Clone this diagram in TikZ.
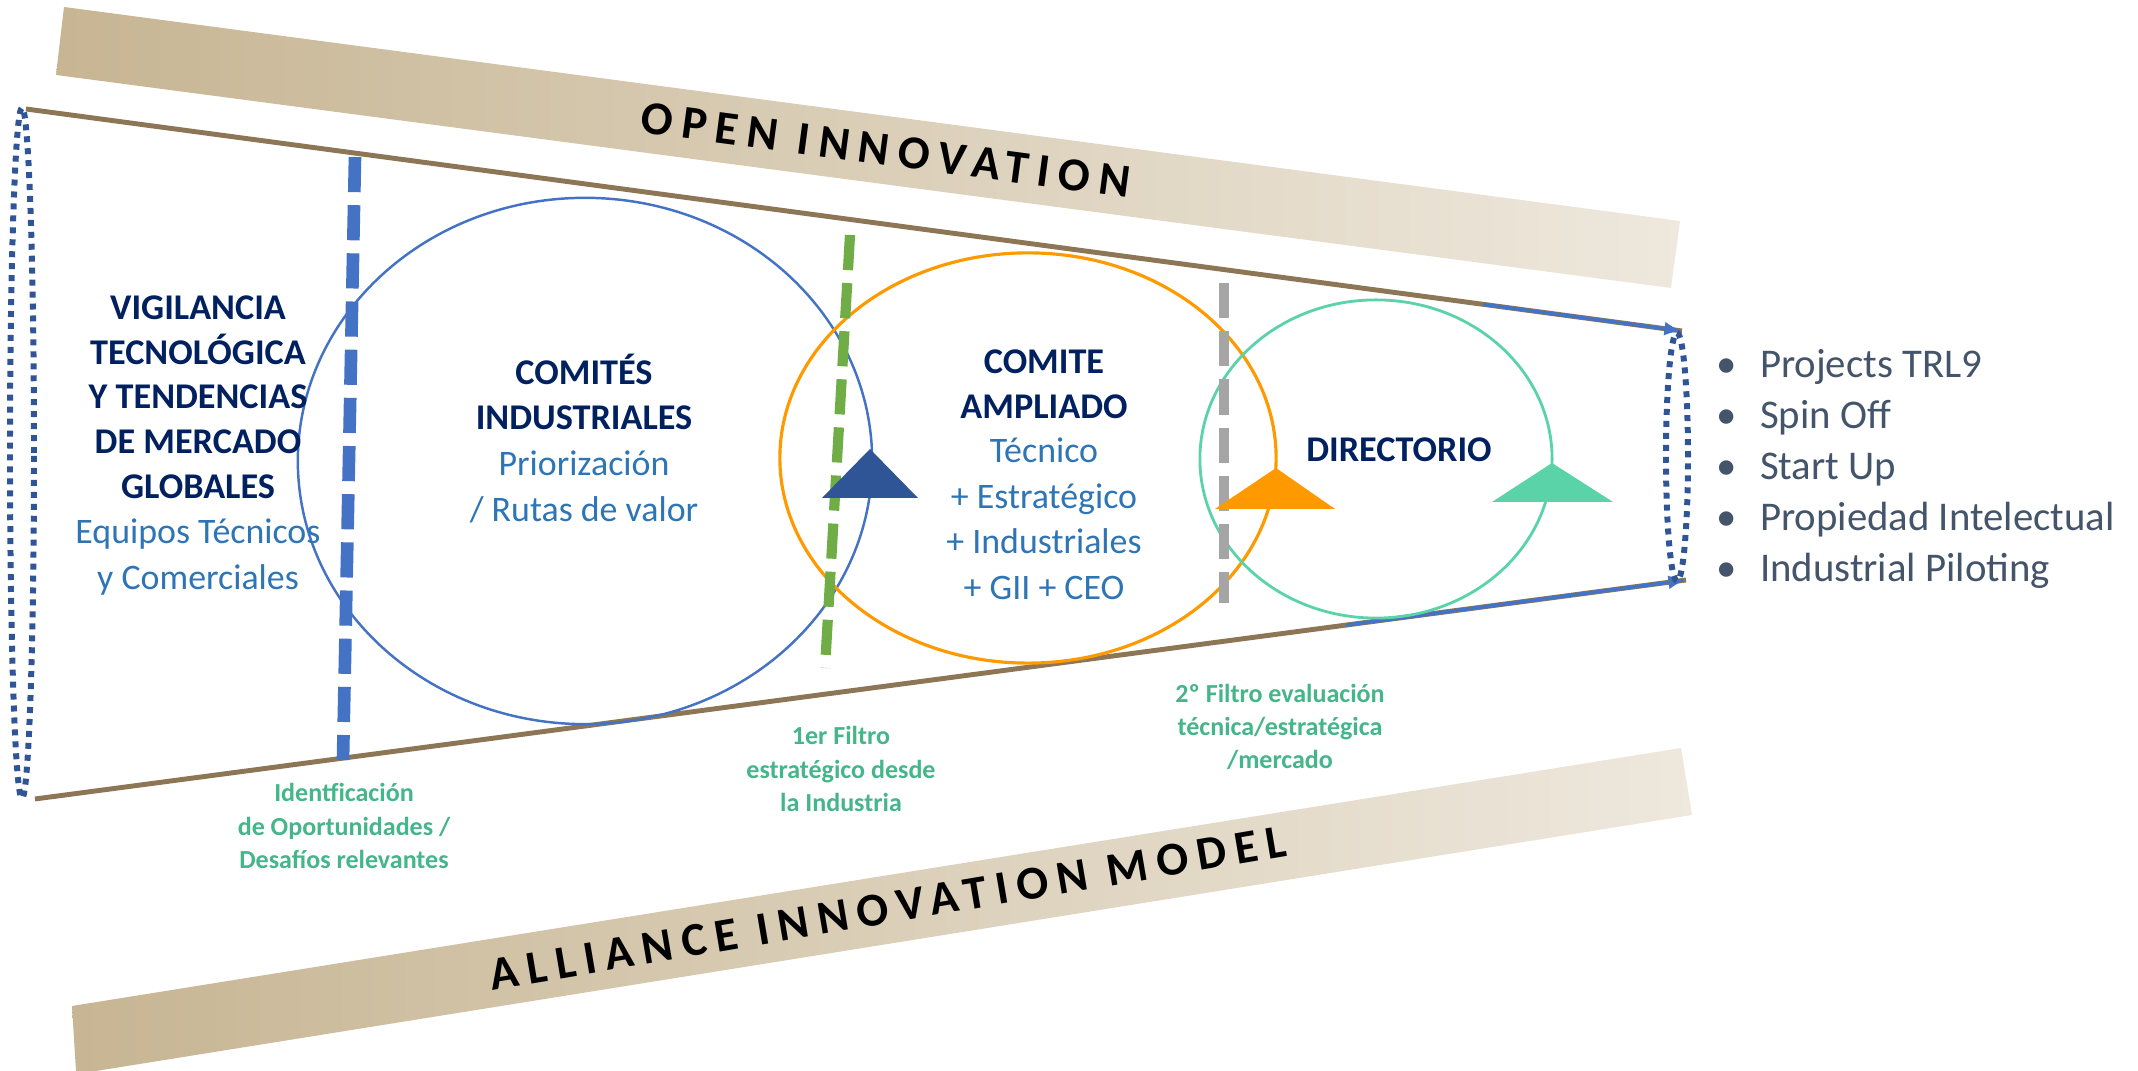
\documentclass[tikz,border=0pt]{standalone}
\usepackage{fontspec}
\setmainfont{Carlito}
\usepackage{tikz}
\usetikzlibrary{arrows.meta,calc,positioning}

\definecolor{navy}{HTML}{002060}
\definecolor{txtblue}{HTML}{2E75B6}
\definecolor{lblgreen}{HTML}{45B58A}
\definecolor{listgray}{HTML}{44546A}
\definecolor{bandL}{HTML}{C7B593}
\definecolor{bandR}{HTML}{EEE8DD}
\definecolor{funnel}{HTML}{8C7656}
\definecolor{dkblue}{HTML}{2F5597}
\definecolor{midblue}{HTML}{4472C4}
\definecolor{grn}{HTML}{70AD47}
\definecolor{org}{HTML}{FF9900}
\definecolor{mint}{HTML}{5BD3A9}
\definecolor{gatgray}{HTML}{A5A5A5}

\begin{document}
\begin{tikzpicture}[x=0.01cm, y=-0.01cm, >=Latex,
  title/.style={font=\fontsize{10.3}{12.7}\selectfont\bfseries, text=navy, align=center, inner sep=0pt},
  sub/.style={font=\fontsize{10.2}{13}\selectfont, text=txtblue, align=center, inner sep=0pt},
  filt/.style={font=\fontsize{7.4}{9.5}\selectfont\bfseries, text=lblgreen, align=center, inner sep=0pt},
  band/.style={left color=bandL, right color=bandR},
  bandtext/.style={font=\fontsize{13.4}{14}\selectfont\bfseries\addfontfeature{LetterSpace=19}, inner sep=0pt},
  gate/.style={dash pattern=on 10pt off 3.7pt}]

  \useasboundingbox (0,0) rectangle (2138,1071);

  % Bands
  \shade[band] (64,7) -- (1680,221) -- (1671,288) -- (56,75) -- cycle;
  \shade[band] (72,1006) -- (1681,748) -- (1692,815) -- (96,1071) -- (76,1071) -- cycle;
  \node[bandtext, rotate=-7.6] (open) at (886,150) {OPEN INNOVATION};
  \node[bandtext, rotate=9.6] (alliance) at (888,908) {ALLIANCE INNOVATION MODEL};

  % Funnel edges
  \coordinate (tl) at (26,109);
  \coordinate (tr) at (1682,331);
  \coordinate (bl) at (35,799);
  \coordinate (br) at (1686,580);
  \draw[funnel, line width=1.4pt] (tl) -- (tr);
  \draw[funnel, line width=1.4pt] (bl) -- (br);
  \coordinate (ta) at ($(tl)!0.88!(tr)$);
  \coordinate (ba) at ($(bl)!0.794!(br)$);
  \draw[midblue, line width=1pt, -{Latex[length=5pt,width=4pt]}] (ta) -- (tr);
  \draw[midblue, line width=1pt, -{Latex[length=5pt,width=4pt]}] (ba) -- (br);

  % Dotted mouths
  \draw[dkblue, line width=1.7pt, dash pattern=on 1.7pt off 1.7pt] (22,453) ellipse [x radius=0.12cm, y radius=3.45cm];
  \draw[dkblue, line width=1.7pt, dash pattern=on 1.7pt off 1.7pt] (1677,457) ellipse [x radius=0.11cm, y radius=1.24cm];

  % Committees
  \draw[midblue, line width=0.7pt] (585,461) ellipse [x radius=2.87cm, y radius=2.63cm];
  \draw[org, line width=0.9pt] (1028,458) ellipse [x radius=2.48cm, y radius=2.05cm];
  \draw[mint, line width=0.8pt] (1376,459) ellipse [x radius=1.76cm, y radius=1.59cm];

  % Filters
  \coordinate (g1t) at (355,157);
  \coordinate (g1b) at (343,760);
  \coordinate (g2t) at (850,235);
  \coordinate (g2b) at (825,668);
  \coordinate (g3t) at (1224,283);
  \coordinate (g3b) at (1224,603);
  \draw[gate, midblue, line width=3.6pt] (g1t) -- (g1b);
  \draw[gate, grn, line width=2.9pt] (g2t) -- (g2b);
  \draw[gate, gatgray, line width=3.1pt] (g3t) -- (g3b);

  % Heads
  \fill[dkblue] (870,449) -- (918,498) -- (822,498) -- cycle;
  \fill[org] (1276,468) -- (1335,509) -- (1215,509) -- cycle;
  \fill[mint] (1552,463) -- (1613,502) -- (1492,502) -- cycle;

  % Texts
  \node[title] (vig) at (198,397) {VIGILANCIA\\TECNOLÓGICA\\Y TENDENCIAS\\DE MERCADO\\GLOBALES};
  \node[sub, below=1.9mm of vig] (vigsub) {Equipos Técnicos\\y Comerciales};
  \node[title] (comind) at (584,392) {COMITÉS\\INDUSTRIALES};
  \node[sub, below=2mm of comind] (comsub) {Priorización\\/ Rutas de valor};
  \node[title] (comamp) at (1044,384) {COMITE\\AMPLIADO};
  \node[sub, below=1.8mm of comamp] (ampsub) {Técnico\\+ Estratégico\\+ Industriales\\+ GII + CEO};
  \node[title] (dir) at (1399,450) {DIRECTORIO};

  \node[font=\fontsize{11.6}{14.5}\selectfont, text=listgray, align=left, inner sep=0pt, anchor=west] (out) at (1716,469)
    {\textbullet\hspace{2.3mm}Projects TRL9\\\textbullet\hspace{2.3mm}Spin Off\\\textbullet\hspace{2.3mm}Start Up\\\textbullet\hspace{2.3mm}Propiedad Intelectual\\\textbullet\hspace{2.3mm}Industrial Piloting};

  \node[filt] (ident) at (344,826) {Identficación\\de Oportunidades /\\Desafíos relevantes};
  \node[filt] (filt1) at (841,769) {1er Filtro\\estratégico desde\\la Industria};
  \node[filt] (filt2) at (1280,727) {2º Filtro evaluación\\técnica/estratégica\\/mercado};

\end{tikzpicture}
\end{document}
